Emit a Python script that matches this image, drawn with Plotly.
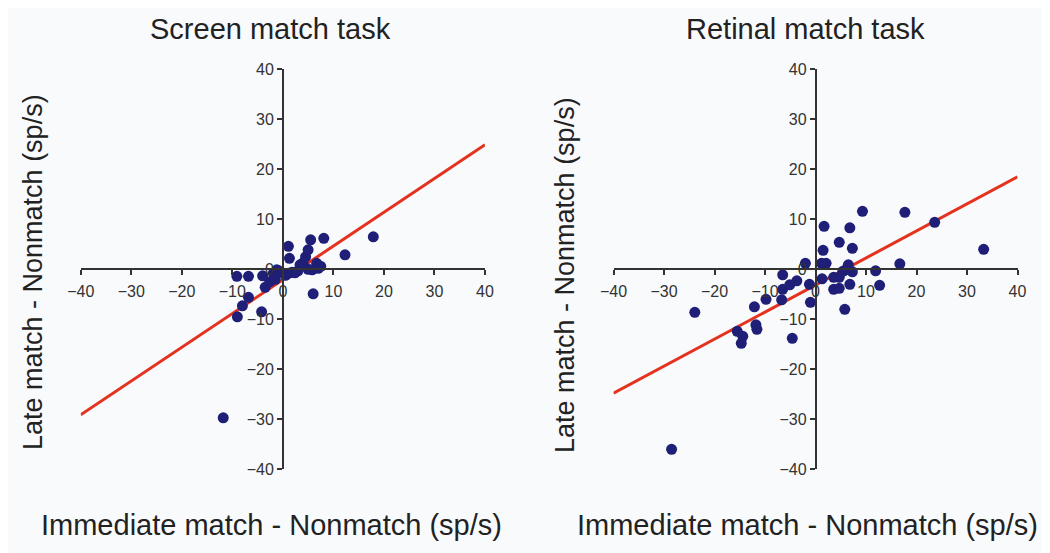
import plotly.graph_objects as go

# ---- data ----
screen_x = [-11.8, -9.0, -8.0, -6.8, -4.2, -9.1, -6.8, -4.0, -3.5, -2.6, -1.9, -1.2, -0.3, 0.5, 1.1,
            2.4, 3.0, 1.1, 1.3, 3.4, 4.0, 4.5, 5.0, 5.5, 8.1, 5.0, 5.8, 6.7, 7.0, 6.0, 12.3, 17.9,
            -1.5, -0.8, 1.8, 7.5]
screen_y = [-29.7, -9.5, -7.3, -5.6, -8.5, -1.4, -1.4, -1.3, -3.6, -2.5, -0.8, -0.1, -0.6, -1.2, -0.8,
            -0.7, -0.3, 4.6, 2.2, 0.9, 1.3, 2.5, 3.9, 5.9, 6.2, 0.0, -0.1, 1.2, 0.2, -4.9, 2.9, 6.5,
            -2.0, -0.3, -0.6, 0.6]

retinal_x = [-28.5, -23.9, -15.5, -14.4, -14.7, -11.8, -11.6, -12.1, -9.8, -6.7, -6.5, -6.5, -5.1,
             -3.7, -4.6, -2.0, -1.2, -1.0, 1.7, 1.5, 1.2, 2.1, 1.3, 4.7, 6.8, 7.3, 9.3, 3.6, 4.7,
             5.4, 6.0, 6.5, 7.3, 3.6, 4.7, 6.8, 5.8, 11.9, 12.7, 16.7, 17.7, 23.6, 33.3]
retinal_y = [-36.0, -8.6, -12.4, -13.4, -14.8, -11.1, -12.0, -7.5, -6.0, -6.1, -1.1, -4.0, -3.1,
             -2.3, -13.8, 1.2, -3.0, -6.6, 8.6, 3.8, 1.2, 1.2, -1.9, 5.4, 8.3, 4.2, 11.6, -1.6, -1.6,
             -0.4, -0.1, 0.9, -0.5, -4.0, -3.8, -3.0, -8.0, -0.3, -3.2, 1.1, 11.4, 9.4, 4.0]

fit_x = [-40, 40]
screen_fit_y = [-29.1, 24.9]
retinal_fit_y = [-24.8, 18.5]

tick_vals = [-40, -30, -20, -10, 0, 10, 20, 30, 40]

titles = ["Screen match task", "Retinal match task"]
x_title = "Immediate match - Nonmatch (sp/s)"
y_title = "Late match - Nonmatch (sp/s)"

# ---- layout geometry (page has an 8px body margin) ----
OFF = 8
W, H = 1050 - OFF, 553 - OFF
FONT = "Liberation Sans, Arial, Helvetica, sans-serif"
DOT = "#1f1f78"
RED = "#e4321f"
AX = "#333333"


def px(x):
    return (x - OFF) / W


def py(y):
    return 1 - (y - OFF) / H


xdom1 = [px(80.7), px(485.0)]
xdom2 = [px(613.5), px(1017.5)]
ydom = [py(469.3), py(69.3)]
ymid = (ydom[0] + ydom[1]) / 2

fig = go.Figure()

fig.add_trace(go.Scatter(x=fit_x, y=screen_fit_y, mode="lines",
                         line=dict(color=RED, width=3), xaxis="x", yaxis="y", showlegend=False))
fig.add_trace(go.Scatter(x=screen_x, y=screen_y, mode="markers",
                         marker=dict(color=DOT, size=11), xaxis="x", yaxis="y", showlegend=False))
fig.add_trace(go.Scatter(x=fit_x, y=retinal_fit_y, mode="lines",
                         line=dict(color=RED, width=3), xaxis="x2", yaxis="y2", showlegend=False))
fig.add_trace(go.Scatter(x=retinal_x, y=retinal_y, mode="markers",
                         marker=dict(color=DOT, size=11), xaxis="x2", yaxis="y2", showlegend=False))

common = dict(range=[-40, 40], tickvals=tick_vals, showgrid=False, zeroline=False,
              showline=True, linecolor=AX, linewidth=1.5, ticks="outside", ticklen=5,
              tickcolor=AX, tickwidth=1.5, tickfont=dict(family=FONT, size=16, color="#333333"),
              fixedrange=True, automargin=False)

fig.update_layout(
    width=W, height=H,
    margin=dict(l=0, r=0, t=0, b=0, autoexpand=False),
    paper_bgcolor="#f9fafc", plot_bgcolor="rgba(0,0,0,0)",
    xaxis=dict(domain=xdom1, anchor="free", position=ymid, ticklabelstandoff=3, **common),
    yaxis=dict(domain=ydom, anchor="free", position=(xdom1[0] + xdom1[1]) / 2, **common),
    xaxis2=dict(domain=xdom2, anchor="free", position=ymid, ticklabelstandoff=3, **common),
    yaxis2=dict(domain=ydom, anchor="free", position=(xdom2[0] + xdom2[1]) / 2, **common),
)

ann = []
for cx, t in [(270, titles[0]), (805, titles[1])]:
    ann.append(dict(text=t, x=px(cx), y=py(29), xref="paper", yref="paper",
                    showarrow=False, xanchor="center", yanchor="middle",
                    font=dict(family=FONT, size=29, color="#222222")))
for cx in [271, 807]:
    ann.append(dict(text=x_title, x=px(cx), y=py(525), xref="paper", yref="paper",
                    showarrow=False, xanchor="center", yanchor="middle",
                    font=dict(family=FONT, size=29, color="#222222")))
for cx, cy in [(33, 272), (565, 275)]:
    ann.append(dict(text=y_title, x=px(cx), y=py(cy), xref="paper", yref="paper",
                    showarrow=False, xanchor="center", yanchor="middle", textangle=-90,
                    font=dict(family=FONT, size=27, color="#222222")))
fig.update_layout(annotations=ann)

fig.write_html("out.html")
